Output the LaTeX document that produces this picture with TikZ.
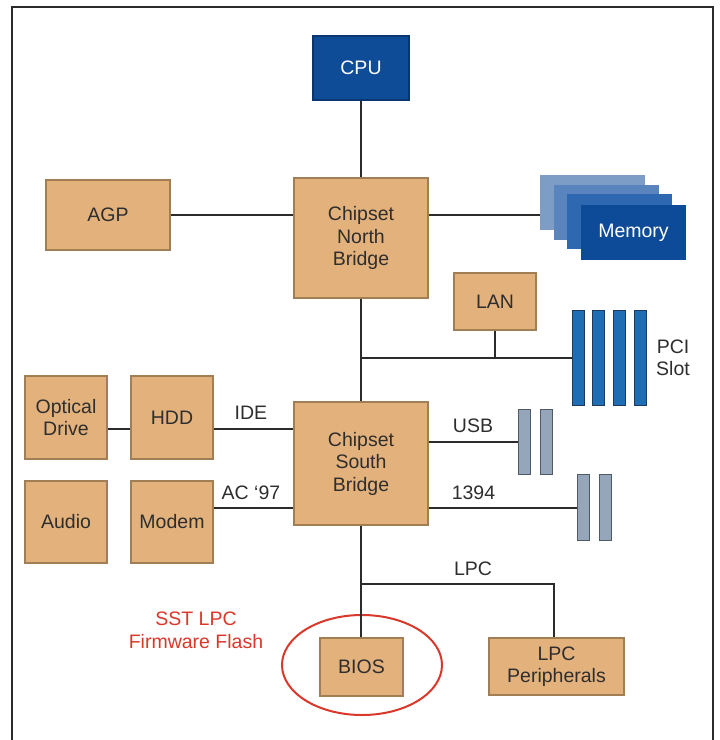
\documentclass[tikz,border=0pt]{standalone}
\usepackage{fontspec}
\setmainfont{Liberation Sans}
\usetikzlibrary{shapes.geometric}
\definecolor{tanfill}{HTML}{E3B17C}
\definecolor{tanedge}{HTML}{A27E54}
\definecolor{txt}{HTML}{2E2E2E}
\definecolor{cpublue}{HTML}{0E4C97}
\definecolor{cpuedge}{HTML}{0A3670}
\definecolor{memA}{HTML}{7D9DC6}
\definecolor{memB}{HTML}{5A84BE}
\definecolor{memC}{HTML}{2E68B0}
\definecolor{memD}{HTML}{0D4A98}
\definecolor{pcifill}{HTML}{1F6DB3}
\definecolor{pciedge}{HTML}{1B3A5E}
\definecolor{portfill}{HTML}{95A6BA}
\definecolor{portedge}{HTML}{4F5A66}
\definecolor{wire}{HTML}{2B2B2B}
\definecolor{sstred}{HTML}{D9382A}
\begin{document}
\begin{tikzpicture}[x=1pt,y=-1pt,
  every node/.style={font=\fontsize{19.5}{22.5}\selectfont, text=txt, align=center, inner sep=0pt},
  tanbox/.style={draw=tanedge, fill=tanfill, line width=2pt},
  bluebox/.style={draw=cpuedge, fill=cpublue, line width=1.5pt, text=white},
  memcard/.style={draw=none, minimum width=105pt, minimum height=55pt},
  pcibar/.style={draw=pciedge, fill=pcifill, line width=1pt, minimum width=12pt, minimum height=95pt},
  portbar/.style={draw=portedge, fill=portfill, line width=1pt, minimum width=12pt},
  wireline/.style={draw=wire, line width=2.3pt},
  lbl/.style={text=txt}
]
\useasboundingbox (0,0) rectangle (720,740);
\fill[white] (0,0) rectangle (720,740);
\draw[line width=2pt, draw=wire] (12,740) -- (12,7) -- (713,7) -- (713,740);

% nodes
\node[bluebox, minimum width=96pt, minimum height=64pt] (CPU) at (361,68) {CPU};
\node[tanbox, minimum width=134pt, minimum height=120pt] (NB) at (361,238) {Chipset\\North\\Bridge};
\node[tanbox, minimum width=124pt, minimum height=70pt] (AGP) at (108,215) {AGP};
\node[memcard, fill=memA] (mem1) at (592.5,202.5) {};
\node[memcard, fill=memB] (mem2) at (606.5,212) {};
\node[memcard, fill=memC] (mem3) at (619.5,221.5) {};
\node[memcard, fill=memD, text=white] (mem4) at (633.5,232.5) {Memory};
\node[tanbox, minimum width=82pt, minimum height=57pt] (LAN) at (495,301.5) {LAN};
\node[pcibar] (pci1) at (578,357.5) {};
\node[pcibar] (pci2) at (598,357.5) {};
\node[pcibar] (pci3) at (619,357.5) {};
\node[pcibar] (pci4) at (640,357.5) {};
\node[lbl] (pcil) at (673,358) {PCI\\Slot};
\node[tanbox, minimum width=134pt, minimum height=123pt] (SB) at (361,463.5) {Chipset\\South\\Bridge};
\node[tanbox, minimum width=82pt, minimum height=83pt] (OPT) at (66,417.5) {Optical\\Drive};
\node[tanbox, minimum width=82pt, minimum height=83pt] (HDD) at (172,417.5) {HDD};
\node[tanbox, minimum width=82pt, minimum height=82pt] (AUD) at (66,522) {Audio};
\node[tanbox, minimum width=82pt, minimum height=82pt] (MOD) at (172,522) {Modem};
\node[portbar, minimum height=65pt] (usb1) at (524.5,441.5) {};
\node[portbar, minimum height=65pt] (usb2) at (546,441.5) {};
\node[portbar, minimum height=66pt] (fw1) at (583,507) {};
\node[portbar, minimum height=66pt] (fw2) at (605,507) {};
\node[tanbox, minimum width=83pt, minimum height=58pt] (BIOS) at (361.5,667) {BIOS};
\node[tanbox, minimum width=135pt, minimum height=57pt] (LPCP) at (556.5,666.5) {LPC\\Peripherals};
\node[draw=sstred, line width=2pt, ellipse, minimum width=160pt, minimum height=100pt] (ring) at (362,665) {};
\node[text=sstred] (sst) at (196,630.5) {SST LPC\\Firmware Flash};

% labels
\node[lbl] (ide) at (251,413) {IDE};
\node[lbl] (ac97) at (251,493) {AC ‘97};
\node[lbl] (usbt) at (473,426) {USB};
\node[lbl] (fwt) at (473.5,493) {1394};
\node[lbl] (lpct) at (473,569) {LPC};

% helper coordinates
\coordinate (pcibus) at (361,358);
\coordinate (idey) at (0,429);
\coordinate (acy) at (0,508);
\coordinate (usby) at (0,442);
\coordinate (lpcbr) at (361,584);
\coordinate (lpcx) at (554,0);

% connectors
\draw[wireline] (CPU.south) -- (NB.north);
\draw[wireline] (AGP.east) -- (AGP.east -| NB.west);
\draw[wireline] (NB.east |- AGP.east) -- (AGP.east -| mem1.west);
\draw[wireline] (NB.south) -- (SB.north);
\draw[wireline] (pcibus) -- (pcibus -| pci1.west);
\draw[wireline] (LAN.south) -- (LAN.south |- pcibus);
\draw[wireline] (OPT.east |- idey) -- (HDD.west |- idey);
\draw[wireline] (HDD.east |- idey) -- (SB.west |- idey);
\draw[wireline] (MOD.east |- acy) -- (SB.west |- acy);
\draw[wireline] (SB.east |- usby) -- (usb1.west |- usby);
\draw[wireline] (SB.east |- acy) -- (fw1.west |- acy);
\draw[wireline] (SB.south) -- (SB.south |- BIOS.north);
\draw[wireline] (lpcbr) -- (lpcx |- lpcbr) -- (lpcx |- LPCP.north);
\end{tikzpicture}
\end{document}
